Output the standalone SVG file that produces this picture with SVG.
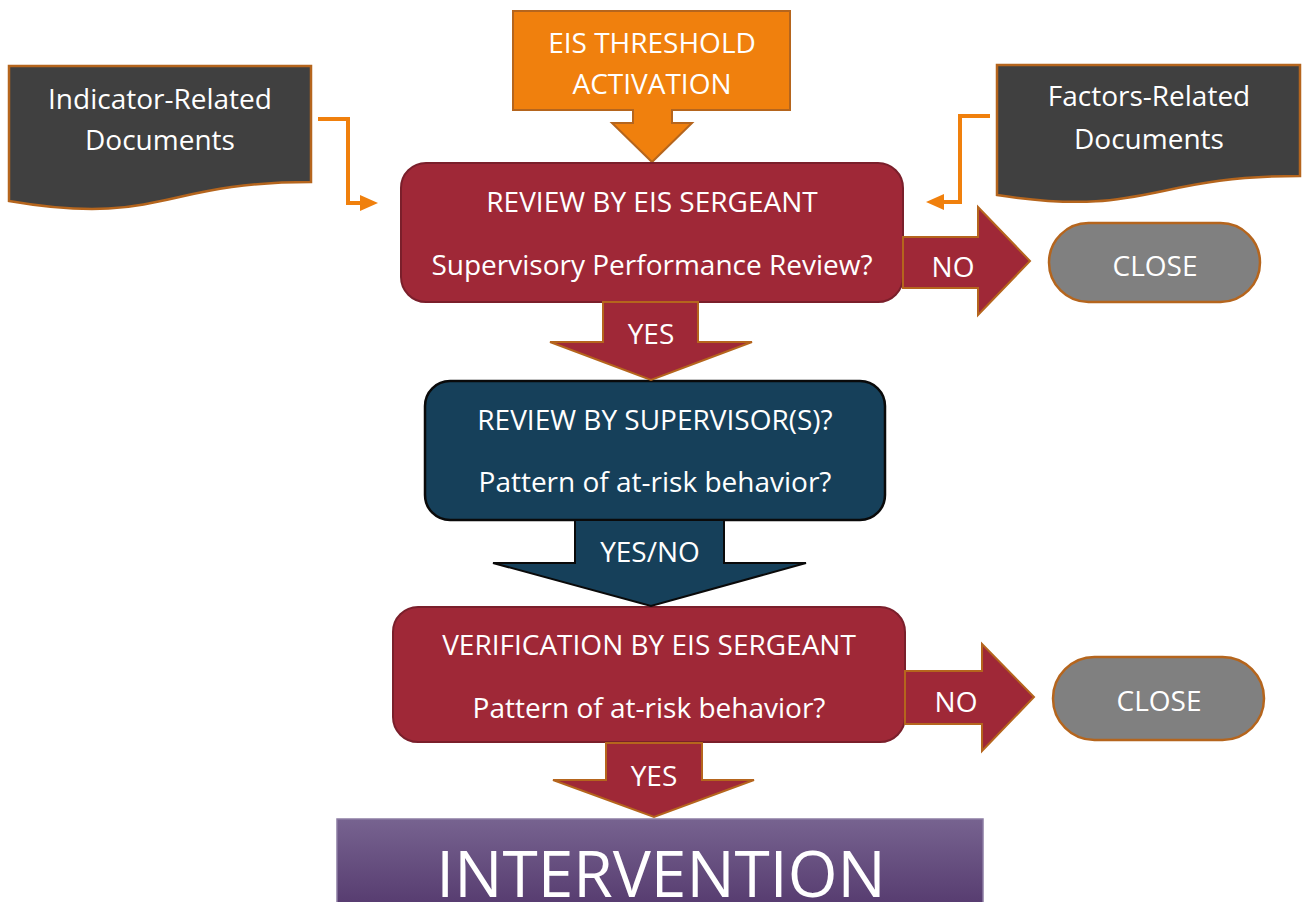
<svg xmlns="http://www.w3.org/2000/svg" width="1302" height="902" viewBox="0 0 1302 902">
<style>
text{font-family:"Open Sans","Liberation Sans",sans-serif;fill:#ffffff;text-anchor:middle}
.t27{font-size:28px}
.red{fill:#9F2837;stroke:#7A1F2B;stroke-width:2}
.blue{fill:#16405A;stroke:#0a0a0a;stroke-width:2.5}
.doc{fill:#404040;stroke:#B5651D;stroke-width:2.5}
.close{fill:#808080;stroke:#B5651D;stroke-width:2.5}
.barrow{fill:#9F2837;stroke:#B5651D;stroke-width:2}
.barrowb{fill:#16405A;stroke:#0a0a0a;stroke-width:2}
.conn{fill:none;stroke:#F0800D;stroke-width:4}
.ahead{fill:#F0800D}
</style>
<defs>
<linearGradient id="pg" x1="0" y1="0" x2="0" y2="1">
<stop offset="0" stop-color="#776390"/>
<stop offset="1" stop-color="#553A6E"/>
</linearGradient>
</defs>
<rect width="1302" height="902" fill="#ffffff"/>

<g id="eis-threshold">
<path d="M513,11 L790,11 L790,110 L672,110 L672,123 L692,123 L652,162 L612,123 L633,123 L633,110 L513,110 Z" fill="#F0800D" stroke="#B5651D" stroke-width="2"/>
<text class="t27" x="652" y="53">EIS THRESHOLD</text>
<text class="t27" x="652" y="94">ACTIVATION</text>
</g>

<g id="indicator-docs">
<path class="doc" d="M9,66 L311,66 L311,182 C160,182 160,227 9,201 Z"/>
<text class="t27" x="160" y="109">Indicator-Related</text>
<text class="t27" x="160" y="150">Documents</text>
</g>

<g id="factors-docs">
<path class="doc" d="M997,65 L1300,65 L1300,176 C1148,176 1148,218 997,195 Z"/>
<text class="t27" x="1149" y="106">Factors-Related</text>
<text class="t27" x="1149" y="149">Documents</text>
</g>

<g id="review-sergeant">
<rect class="red" x="401" y="163" width="502" height="139" rx="25"/>
<text class="t27" x="652" y="212">REVIEW BY EIS SERGEANT</text>
<text class="t27" x="652" y="275">Supervisory Performance Review?</text>
</g>

<g id="close-1">
<rect class="close" x="1049" y="223" width="211" height="79" rx="39.5"/>
<text class="t27" x="1155" y="276">CLOSE</text>
</g>

<g id="review-supervisor">
<rect class="blue" x="425" y="381" width="460" height="139" rx="25"/>
<text class="t27" x="655" y="430">REVIEW BY SUPERVISOR(S)?</text>
<text class="t27" x="655" y="492">Pattern of at-risk behavior?</text>
</g>

<g id="verification">
<rect class="red" x="393" y="607" width="512" height="135" rx="25"/>
<text class="t27" x="649" y="655">VERIFICATION BY EIS SERGEANT</text>
<text class="t27" x="649" y="718">Pattern of at-risk behavior?</text>
</g>

<g id="close-2">
<rect class="close" x="1053" y="657" width="211" height="83" rx="41.5"/>
<text class="t27" x="1159" y="711">CLOSE</text>
</g>

<g id="intervention">
<rect x="337" y="819" width="646" height="90" fill="url(#pg)" stroke="#8C7CA3" stroke-width="1.5"/>
<text x="661" y="897" style="font-size:64px">INTERVENTION</text>
</g>

<g id="connectors">
<polyline class="conn" points="318,119 348,119 348,203 362,203"/>
<polygon class="ahead" points="360,195 378,203 360,211"/>
<polyline class="conn" points="990,116 960,116 960,202 942,202"/>
<polygon class="ahead" points="944,194 926,202 944,210"/>

<path class="barrow" d="M603,302 L698,302 L698,342 L752,342 L651,380 L550,342 L603,342 Z"/>
<text class="t27" x="651" y="344">YES</text>

<path class="barrow" d="M903,237 L978,237 L978,207 L1030,261 L978,315 L978,288 L903,288 Z"/>
<text class="t27" x="953" y="277">NO</text>

<path class="barrowb" d="M575,520 L724,520 L724,563 L806,563 L651,606 L493,563 L575,563 Z"/>
<text class="t27" x="650" y="562">YES/NO</text>

<path class="barrow" d="M905,671 L982,671 L982,644 L1034,697 L982,751 L982,724 L905,724 Z"/>
<text class="t27" x="956" y="712">NO</text>

<path class="barrow" d="M606,743 L702,743 L702,780 L754,780 L654,817 L553,780 L606,780 Z"/>
<text class="t27" x="654" y="786">YES</text>
</g>
</svg>
